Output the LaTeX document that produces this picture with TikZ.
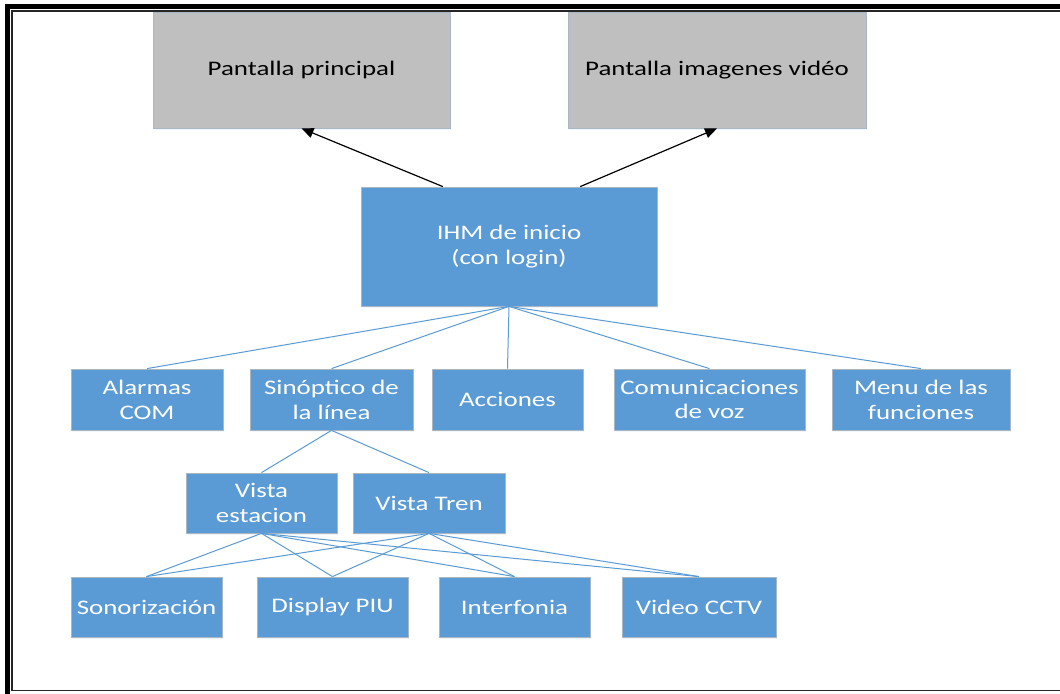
\documentclass[tikz,border=0pt]{standalone}
\usepackage{fontspec}
\setmainfont{Carlito}[FakeStretch=1.3]
\usetikzlibrary{arrows.meta,calc,shadows}
\definecolor{boxblue}{HTML}{5B9BD5}
\definecolor{boxgrey}{HTML}{BFBFBF}
\definecolor{boxedge}{HTML}{A9B6C3}
\tikzset{
  basebox/.style={rectangle, inner sep=0pt, align=center, draw=boxedge, line width=0.4pt,
    font=\fontsize{10.35pt}{12.4pt}\selectfont,
    drop shadow={shadow xshift=0.6pt, shadow yshift=-0.8pt, opacity=0.15, fill=boxblue!60}},
  bluebox/.style={basebox, fill=boxblue, text=white},
  greybox/.style={basebox, fill=boxgrey, text=black},
  link/.style={draw=boxblue, line width=0.5pt},
  goto/.style={draw=black, line width=0.6pt, -{Triangle[length=6pt,width=5pt]}},
}
\begin{document}
\begin{tikzpicture}[x=0.5pt,y=-0.5pt]
\useasboundingbox (0,0) rectangle (1060,694);
\fill[white] (0,0) rectangle (1060,694);

% screens reached from the start screen
\node[greybox, minimum width=148.5pt, minimum height=58pt] (main) at (301.5,70)
  {\raisebox{1.5pt}{Pantalla principal}};
\node[greybox, minimum width=149pt, minimum height=58pt] (video) at (717,70)
  {\raisebox{1.5pt}{Pantalla imagenes vidéo}};

% start screen
\node[bluebox, minimum width=148pt, minimum height=59.5pt] (ihm) at (509,246.5)
  {IHM de inicio\\(con login)};

% first level
\node[bluebox, minimum width=76pt,   minimum height=30.5pt] (alarm) at (147,399.5) {Alarmas\\COM};
\node[bluebox, minimum width=81.5pt, minimum height=30.5pt] (sinop) at (331.5,399.5) {Sinóptico de\\la línea};
\node[bluebox, minimum width=75.5pt, minimum height=30.5pt] (acc)   at (507.5,399.5) {Acciones};
\node[bluebox, minimum width=95.5pt, minimum height=30.5pt] (comm)  at (709.5,399.5) {Comunicaciones\\de voz};
\node[bluebox, minimum width=89pt,   minimum height=30.5pt] (menu)  at (921,399.5) {Menu de las\\funciones};

% views of the line
\node[bluebox, minimum width=75.5pt, minimum height=30pt] (ve) at (261.5,503) {Vista\\estacion};
\node[bluebox, minimum width=76pt,   minimum height=30pt] (vt) at (429,503) {Vista Tren};

% equipment
\node[bluebox, minimum width=75.5pt, minimum height=30pt] (son)  at (146.5,607) {Sonorización};
\node[bluebox, minimum width=75.5pt, minimum height=30pt] (piu)  at (332.5,607) {Display PIU};
\node[bluebox, minimum width=75.5pt, minimum height=30pt] (int)  at (514.5,607) {Interfonia};
\node[bluebox, minimum width=77pt,   minimum height=30pt] (cctv) at (699,607) {Video CCTV};

% navigation arrows
\draw[goto] ($(ihm.north west)!0.277!(ihm.north east)$) -- (main.south);
\draw[goto] ($(ihm.north west)!0.74!(ihm.north east)$) -- (video.south);

% tree links
\foreach \n in {alarm,sinop,acc,comm,menu}
  \draw[link] (ihm.south) -- (\n.north);
\draw[link] (sinop.south) -- (ve.north);
\draw[link] (sinop.south) -- (vt.north);
\foreach \v in {ve,vt}
  \foreach \n in {son,piu,int,cctv}
    \draw[link] (\v.south) -- (\n.north);

% page frame
\begin{scope}
\clip (0,0) rectangle (1060,694);
\draw[black, line width=2.5pt] (7.5,6.5) rectangle (1080,705);
\draw[black!85, line width=0.6pt] (12,11) rectangle (1070,690.5);
\end{scope}
\end{tikzpicture}
\end{document}
